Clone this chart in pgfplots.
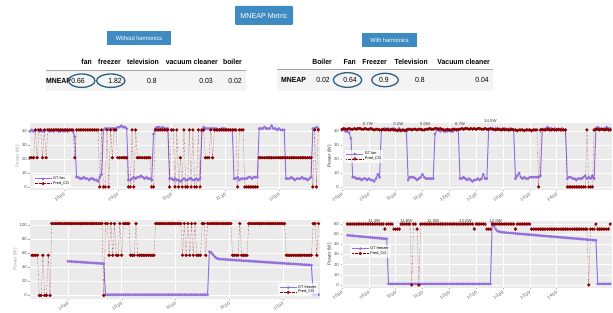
\documentclass[border=0pt]{standalone}
\usepackage{fontspec}
\setmainfont{Liberation Sans}
\newfontfamily\tabf[FakeStretch=0.93]{Liberation Sans}
\usepackage{pgfplots}
\pgfplotsset{compat=1.18}
\definecolor{gtpurple}{RGB}{147,112,219}
\definecolor{predred}{RGB}{139,0,0}
\definecolor{bggray}{RGB}{235,235,235}
\definecolor{boxblue}{RGB}{61,139,192}
\definecolor{ellblue}{RGB}{45,98,135}
\definecolor{rowgray}{RGB}{244,244,244}
\newcommand{\tickf}{\fontsize{4.3}{4.7}\selectfont}
\newcommand{\legf}{\fontsize{3.8}{4.2}\selectfont}
\pgfplotsset{
  myax/.style={scale only axis, anchor=south west, clip=false,
    axis background/.style={fill=bggray},
    axis line style={draw=none},
    grid=major, major grid style={white, line width=0.5pt},
    tick style={gray!70, line width=0.3pt}, major tick length=1.5pt, tick align=outside,
    xtick pos=left, ytick pos=left,
    /pgf/number format/assume math mode=true,
    ticklabel style={font=\tickf, text=black!70},
    xticklabel style={rotate=30, anchor=north east, inner sep=1pt},
    yticklabel style={inner sep=1.5pt},
    ylabel style={font=\fontsize{4.8}{5}\selectfont, text=black!75, yshift=-3pt},
    legend style={font=\legf, fill=white, fill opacity=0.7, text opacity=1, draw=none, inner sep=1pt, row sep=-1.5pt, nodes={inner sep=1pt}},
    legend cell align=left},
  gt/.style={color=gtpurple, line width=1pt, mark=*, mark size=0.85pt, mark options={solid}},
  pr/.style={color=predred, line width=0.35pt, densely dotted, mark=*, mark size=1.45pt, mark options={solid}}
}
\begin{document}
\begin{tikzpicture}[x=1pt,y=1pt]
\useasboundingbox (0,0) rectangle (613,313);
% title boxes
\node[fill=boxblue, text=white, rounded corners=1pt, minimum width=58pt, minimum height=19pt, inner sep=0pt, font=\fontsize{7.2}{8}\selectfont] at (264,297.5) {MNEAP Metric};
\node[fill=boxblue, text=white, minimum width=64pt, minimum height=14pt, inner sep=0pt, font=\tabf\fontsize{6}{6.5}\selectfont] at (139,275) {Without harmonics};
\node[fill=boxblue, text=white, minimum width=55pt, minimum height=14pt, inner sep=0pt, font=\tabf\fontsize{6}{6.5}\selectfont] at (389.5,273) {With harmonics};
% left table
\fill[rowgray] (46,222) rectangle (246,242);
\draw[gray!70, line width=0.8pt] (46,242.5) -- (246,242.5);
\begin{scope}[every node/.style={inner sep=0pt, anchor=east, font=\tabf\fontsize{7.4}{8}\selectfont\bfseries}]
\node at (92,251) {fan};
\node at (121,251) {freezer};
\node at (159,251) {television};
\node at (218,251) {vacuum cleaner};
\node at (242,251) {boiler};
\node[anchor=west] at (46,232) {MNEAP};
\end{scope}
\begin{scope}[every node/.style={inner sep=0pt, anchor=east, font=\tabf\fontsize{7.4}{8}\selectfont}]
\node at (85,232) {0.66};
\node at (122,232) {1.82};
\node at (157,232) {0.8};
\node at (213,232) {0.03};
\node at (242,232) {0.02};
\end{scope}
% right table
\fill[rowgray] (277,222) rectangle (493,243);
\draw[gray!70, line width=0.8pt] (277,243.7) -- (493,243.7);
\begin{scope}[every node/.style={inner sep=0pt, anchor=east, font=\tabf\fontsize{7.4}{8}\selectfont\bfseries}]
\node at (332,251) {Boiler};
\node at (356,251) {Fan};
\node at (387,251) {Freezer};
\node at (428,251) {Television};
\node at (490,251) {Vacuum cleaner};
\node[anchor=west] at (281,233) {MNEAP};
\end{scope}
\begin{scope}[every node/.style={inner sep=0pt, anchor=east, font=\tabf\fontsize{7.4}{8}\selectfont}]
\node at (330,233) {0.02};
\node at (357,233) {0.64};
\node at (389,233) {0.9};
\node at (425,233) {0.8};
\node at (489,233) {0.04};
\end{scope}
\draw[ellblue, line width=1.3pt] (81.7,232.3) ellipse [x radius=13.3, y radius=6.7];
\draw[ellblue, line width=1.3pt] (110.8,232.3) ellipse [x radius=14.2, y radius=6.7];
\draw[ellblue, line width=1.3pt] (347.5,233) ellipse [x radius=14.2, y radius=7.3];
\draw[ellblue, line width=1.3pt] (385,233) ellipse [x radius=13.3, y radius=6.7];

% ---------------- top-left: fan without harmonics
\begin{axis}[myax, at={(30pt,123pt)}, width=290pt, height=67pt,
  xmin=-19, xmax=143, ymin=-2.2, ymax=46,
  xtick={0,30,60,90,120}, xticklabels={10:00,10:30,11:00,11:30,12:00},
  ytick={0,10,20,30,40}, ylabel={Power (W)}, ylabel style={text=black!35},
  legend style={at={(0.01,0.03)}, anchor=south west}]
\addplot[gt] coordinates {(-19,40)(-18,41)(-17,40)(-16,41)(-15,41)(-14,40)(-13,41)(-12,40)(-11,40)(-10,41)(-9,41)(-8,40)(-7,41)(-6,40)(-5,41)(-4,41)(-3,40)(-2,40)(-1,41)(0,40)(1,41)(2,40)(3,41)(4,41)(5,40)
(6,36)(7,7)(8,7)(9,6)(10,6)(11,7)(12,6)(13,6)(14,5)(15,6)(16,6)(17,5)(18,5)(19,4)(20,7)(21,9)(22,41)
(23,42)(24,42)(25,42)(26,42)(27,42)(28,42)(29,42)(30,43)(31,43)(32,44)(33,43)(34,43)(35,42)
(36,5)(37,5)(38,6)(39,7)(40,6)(41,7)(42,7)(43,8)(44,7)(45,6)(46,7)(47,6)(48,6)(49,5)
(50,38)(51,42)(52,43)(53,43)(54,42)(55,43)(56,42)(57,42)(58,42)
(59,6)(60,6)(61,5)(62,6)(63,5)(64,5)(65,4)(66,5)(67,6)(68,5)(69,5)(70,6)(71,6)(72,5)(73,5)(74,6)(75,5)(76,6)
(77,40)(78,43)(79,42)(80,42)(81,42)(82,42)(83,42)(84,42)(85,42)(86,41)(87,41)(88,42)(89,42)(90,42)(91,41)(92,41)(93,41)(94,41)
(95,6)(96,6)(97,7)(98,5)(99,6)(100,6)(101,6)(102,6)(103,7)(104,7)(105,6)(106,7)(107,7)(108,7)
(109,42)(110,42)(111,42)(112,43)(113,42)(114,42)(115,42)(116,44)(117,42)(118,42)(119,41)(120,42)(121,41)(122,41)(123,41)
(124,6)(125,6)(126,6)(127,7)(128,6)(129,5)(130,6)(131,6)(132,6)(133,7)(134,6)(135,6)(136,5)(137,6)(138,7)
(139,42)(140,42)(141,43)(142,42)};
\addplot[pr] coordinates {(-19,21)(-18,21)(-17,21)(-16,41)(-15,21)(-14,41)(-13,41)(-12,21)(-11,41)(-10,21)
(-9,41)(-8,41)(-7,41)(-6,41)(-5,41)(-4,41)(-3,41)(-2,41)(-1,41)(0,41)(1,41)(2,41)(3,41)(4,41)(5,41)
(6,21)(7,41)(8,41)(9,41)(10,41)(11,41)(12,41)(13,41)(14,41)(15,41)(16,41)(17,41)(18,41)(19,41)
(20,0)(21,41)(22,0)(23,0)(24,41)(25,0)(26,41)(27,21)(28,41)(29,41)(30,21)(31,21)(32,21)(33,21)(34,21)(35,21)
(36,0)(37,0)(38,41)(39,0)(40,41)(41,21)(42,21)(43,21)(44,21)(45,21)(46,21)(47,21)(48,21)(49,0)(50,0)
(51,41)(52,41)(53,41)(54,41)(55,41)(56,41)(57,41)(58,41)(59,0)(60,41)(61,41)(62,0)(63,41)(64,0)(65,21)(66,0)(67,41)(68,0)(69,0)(70,41)(71,0)(72,41)(73,0)(74,0)(75,41)(76,0)
(77,41)(78,41)(79,21)(80,21)(81,21)(82,41)(83,21)(84,41)(85,41)(86,41)(87,41)(88,41)(89,41)(90,41)(91,41)(92,41)(93,41)(94,41)(95,41)(96,41)(97,0)(98,41)(99,41)(100,41)
(101,0)(102,0)(103,0)(104,0)(105,0)(106,0)(107,0)(108,0)
(109,21)(110,21)(111,21)(112,21)(113,21)(114,21)(115,21)(116,21)(117,21)(118,21)(119,21)(120,21)(121,21)(122,21)(123,21)(124,21)(125,21)(126,21)(127,21)(128,21)(129,21)(130,21)(131,21)(132,21)(133,21)(134,21)(135,21)(136,21)(137,21)(138,21)
(139,0)(140,41)(141,0)(142,41)};
\legend{GT fan,Pred\_CO}
\end{axis}

% ---------------- top-right: fan with harmonics
\begin{axis}[myax, at={(342pt,123pt)}, width=270pt, height=67pt,
  xmin=0, xmax=302, ymin=-2.2, ymax=46,
  xtick={0,30,60,90,120,150,180,210,240}, xticklabels={10:00,10:30,11:00,11:30,12:00,12:30,13:00,13:30,14:00},
  ytick={0,10,20,30,40}, ylabel={Power (W)},
  legend style={at={(0.01,0.40)}, anchor=south west}]
\addplot[gt] coordinates {(0,41)(2,41)(4,40)(6,40)(8,39)(10,35)(12,7)(14,7)(16,6)(18,6)(20,6)(22,5)(24,6)(26,6)(28,5)(30,6)(32,5)(34,5)(36,4)(38,6)(40,9)(42,7)(44,41)(46,41)(48,42)(50,41)(52,42)(54,41)(56,41)(58,42)(60,41)(62,41)(64,42)(66,41)(68,41)(70,41)(72,40)(74,5)(76,7)(78,7)(80,7)(82,6)(84,5)(86,6)(88,7)(90,9)(92,7)(94,6)(96,6)(98,6)(100,6)(102,6)(104,38)(106,41)(108,41)(110,40)(112,41)(114,40)(116,40)(118,40)(120,41)(122,40)(124,40)(126,41)(128,41)(130,41)(132,6)(134,6)(136,7)(138,6)(140,5)(142,6)(144,5)(146,4)(148,5)(150,5)(152,6)(154,5)(156,6)(158,9)(160,6)(162,6)(164,41)(166,42)(168,42)(170,41)(172,42)(174,42)(176,41)(178,41)(180,42)(182,42)(184,41)(186,41)(188,42)(190,41)(192,41)(194,6)(196,8)(198,10)(200,7)(202,6)(204,7)(206,6)(208,6)(210,7)(212,7)(214,7)(216,7)(218,7)(220,7)(222,8)(224,41)(226,41)(228,42)(230,43)(232,42)(234,42)(236,41)(238,42)(240,41)(242,41)(244,41)(246,42)(248,41)(250,41)(252,6)(254,7)(256,7)(258,6)(260,6)(262,5)(264,6)(266,6)(268,6)(270,7)(272,8)(274,6)(276,7)(278,6)(280,8)(282,6)(284,42)(286,43)(288,42)(290,42)(292,41)(294,42)(296,43)(298,42)(300,42)};
\addplot[pr] coordinates {(0,41.5)(2,42)(4,41.5)(6,41.5)(8,42)(10,41.5)(12,41.5)(14,42)(16,41.5)(18,42)(20,42)(22,41.5)(24,41.5)(26,42)(28,41.5)(30,41.5)(32,42)(34,41.5)(36,41)(38,41.5)(40,41.5)(42,41)(44,41)(46,41.5)(48,41)(50,41.5)(52,41)(54,41)(56,41.5)(58,41)(60,41)(62,40.5)(64,41)(66,40.5)(68,41)(70,40.5)(72,41)(74,41.5)(76,41.5)(78,41)(80,41.5)(82,41.5)(84,41)(86,41.5)(88,41.5)(90,41)(92,41)(94,41.5)(96,41.5)(98,42)(100,41.5)(102,41.5)(104,42)(106,42)(108,41.5)(110,42)(112,41.5)(114,41)(116,41)(118,41.5)(120,41)(122,41)(124,41.5)(126,41.5)(128,41)(130,41.5)(132,41.5)(134,42)(136,41.5)(138,42)(140,42)(142,41.5)(144,42)(146,41.5)(148,42)(150,41.5)(152,42)(154,42)(156,41.5)(158,41.5)(160,42)(162,41.5)(164,41.5)(166,42)(168,41.5)(170,41.5)(172,41)(174,41.5)(176,41.5)(178,41)(180,41.5)(182,41)(184,41.5)(186,41)(188,41)(190,41.5)(192,41)(194,41)(196,40.5)(198,41)(200,41)(202,41)(204,40.5)(206,41)(208,41)(210,41)(212,40.5)(214,41)(216,41)
(218,41)(220,0)(222,41)(224,41.5)(226,41)(228,41)(230,41.5)(232,41)(234,41)(236,41.5)(238,41)(240,41)(242,41.5)(244,41)(246,41)(248,41)(250,41)
(252,0)(254,0)(256,0)(258,0)(260,0)(262,0)(264,0)(266,0)(268,0)(270,0)(272,0)(274,41)(276,0)(278,0)(280,0)(282,41)(284,41.5)(286,41.5)(288,41)(290,41.5)(292,41.5)(294,41)(296,41.5)(298,41)(300,41)};
\legend{GT fan,Pred\_CO}
\node[font=\tickf, text=black!75] at (axis cs:29,45.3) {0.7W};
\node[font=\tickf, text=black!75] at (axis cs:63,45.3) {0.2W};
\node[font=\tickf, text=black!75] at (axis cs:93,45.3) {0.0W};
\node[font=\tickf, text=black!75] at (axis cs:132,45.3) {6.7W};
\node[font=\tickf, text=black!75] at (axis cs:166,47.3) {34.5W};
\end{axis}

% ---------------- bottom-left: freezer without harmonics
\begin{axis}[myax, at={(30pt,14pt)}, width=290pt, height=79pt,
  xmin=-21.2, xmax=140.8, ymin=-5.1, ymax=107.1,
  xtick={0,30,60,90,120}, xticklabels={10:00,10:30,11:00,11:30,12:00},
  ytick={0,20,40,60,80,100}, ylabel={Power (W)}, ylabel style={text=black!35},
  legend style={at={(0.995,0.03)}, anchor=south east}]
\addplot[gt] coordinates {(0,48.5)(1,48.3)(2,48.1)(3,48)(4,47.8)(5,47.6)(6,47.5)(7,47.3)(8,47.1)(9,47)(10,46.8)(11,46.6)(12,46.5)(13,46.3)(14,46.1)(15,46)(16,45.8)(17,45.6)(18,45.4)(19,45.2)(20,45)
(21,1)(22,1)(23,1)(24,1)(25,1)(26,1)(27,1)(28,1)(29,1)(30,1)(31,1)(32,1)(33,1)(34,1)(35,1)(36,1)(37,1)(38,1)(39,1)(40,1)(41,1)(42,1)(43,1)(44,1)(45,1)(46,1)(47,1)(48,1)(49,1)(50,1)(51,1)(52,1)(53,1)(54,1)(55,1)(56,1)(57,1)(58,1)(59,1)(60,1)(61,1)(62,1)(63,1)(64,1)(65,1)(66,1)(67,1)(68,1)(69,1)(70,1)(71,1)(72,1)(73,1)(74,1)(75,1)(76,1)(77,1)(78,1)
(79,62)(80,61)(81,58)(82,55)(83,53)(84,52)(85,51.5)(86,51.3)(87,51.2)(88,51)(89,50.8)(90,50.7)(91,50.5)(92,50.3)(93,50.2)(94,50)(95,49.8)(96,49.7)(97,49.5)(98,49.3)(99,49.2)(100,49)(101,48.8)(102,48.7)(103,48.5)(104,48.3)(105,48.2)(106,48)(107,47.8)(108,47.7)(109,47.5)(110,47.3)(111,47.2)(112,47)(113,46.8)(114,46.7)(115,46.5)(116,46.3)(117,46.2)(118,46)(119,45.8)(120,45.7)(121,45.5)(122,45.3)(123,45.2)(124,45)(125,44.8)(126,44.7)(127,44.5)(128,44.3)(129,44.2)(130,44)(131,43.8)(132,43.7)(133,43.5)(134,43.3)(135,43.2)(136,43)
(137,1)(138,1)(139,1)(140,1)};
\addplot[pr] coordinates {(-20,57)(-19,57)(-18,57)(-17,57)(-16,0)(-15,0)(-14,57)(-13,0)(-12,0)(-11,57)(-10,0)
(-9,102)(-8,102)(-7,102)(-6,102)(-5,102)(-4,102)(-3,102)(-2,102)(-1,102)(0,102)(1,102)(2,102)(3,102)(4,102)(5,102)(6,102)(7,102)(8,102)(9,102)(10,102)(11,102)(12,102)(13,102)(14,102)(15,102)(16,102)(17,102)(18,102)(19,102)
(20,0)(21,102)(22,102)(23,57)(24,102)(25,57)(26,102)(27,57)(28,57)(29,102)(30,57)(31,102)(32,102)(33,102)(34,102)
(35,57)(36,57)(37,57)(38,102)(39,57)(40,57)(41,57)(42,57)(43,57)(44,57)(45,57)(46,57)(47,57)(48,57)
(49,102)(50,102)(51,102)(52,102)(53,102)(54,102)(55,102)(56,102)(57,102)(58,102)(59,102)(60,102)(61,102)(62,102)(63,102)
(64,57)(65,102)(66,57)(67,102)(68,57)(69,102)(70,57)(71,102)(72,57)(73,57)(74,57)
(75,102)(76,102)(77,57)(78,102)(79,102)(80,102)(81,102)(82,102)(83,102)(84,102)(85,102)(86,102)(87,102)(88,102)(89,102)(90,102)(91,102)
(92,57)(93,57)(94,57)(95,57)(96,102)(97,57)(98,57)(99,57)(100,57)
(101,102)(102,102)(103,102)(104,102)(105,102)(106,102)(107,102)(108,102)(109,102)(110,102)(111,102)(112,102)(113,102)(114,102)(115,102)(116,102)(117,102)(118,102)(119,102)(120,102)(121,102)
(122,57)(123,57)(124,57)(125,57)(126,57)(127,57)(128,57)(129,57)(130,57)(131,57)(132,57)(133,57)(134,57)(135,57)(136,57)
(137,102)(138,102)(139,57)(140,102)};
\legend{GT freezer,Pred\_CO}
\end{axis}

% ---------------- bottom-right: freezer with harmonics
\begin{axis}[myax, at={(342pt,25pt)}, width=270pt, height=67pt,
  xmin=0, xmax=302, ymin=-3, ymax=63,
  xtick={0,30,60,90,120,150,180,210,240}, xticklabels={10:00,10:30,11:00,11:30,12:00,12:30,13:00,13:30,14:00},
  ytick={0,10,20,30,40,50,60}, ylabel={Power (W)},
  legend style={at={(0.03,0.45)}, anchor=south west}]
\addplot[gt] coordinates {(6,49)(8,48.8)(10,48.6)(12,48.5)(14,48.3)(16,48.1)(18,48)(20,47.8)(22,47.6)(24,47.5)(26,47.3)(28,47.1)(30,47)(32,46.8)(34,46.6)(36,46.5)(38,46.3)(40,46.2)(42,46)(44,45.9)(46,45.7)(48,45.6)(50,45.4)
(52,1)(54,1)(56,1)(58,1)(60,1)(62,1)(64,1)(66,1)(68,1)(70,1)(72,1)(74,1)(76,1)(78,1)(80,1)(82,1)(84,1)(86,1)(88,1)(90,1)(92,1)(94,1)(96,1)(98,1)(100,1)(102,1)(104,1)(106,1)(108,1)(110,1)(112,1)(114,1)(116,1)(118,1)(120,1)(122,1)(124,1)(126,1)(128,1)(130,1)(132,1)(134,1)(136,1)(138,1)(140,1)(142,1)(144,1)(146,1)(148,1)(150,1)(152,1)(154,1)(156,1)(158,1)(160,1)(162,1)(164,1)(166,1)
(168,61)(170,58)(172,55)(174,53)(176,52.5)(178,52)
(180,51.8)(182,51.6)(184,51.5)(186,51.3)(188,51.2)(190,51)(192,50.9)(194,50.7)(196,50.6)(198,50.4)(200,50.3)(202,50.1)(204,50)(206,49.8)(208,49.7)(210,49.5)(212,49.4)(214,49.2)(216,49.1)(218,48.9)(220,48.8)(222,48.6)(224,48.5)(226,48.3)(228,48.2)(230,48)(232,47.9)(234,47.7)(236,47.6)(238,47.4)(240,47.3)(242,47.1)(244,47)(246,46.8)(248,46.7)(250,46.5)(252,46.4)(254,46.2)(256,46.1)(258,45.9)(260,45.8)(262,45.6)(264,45.5)(266,45.3)(268,45.2)(270,45)(272,44.9)(274,44.7)(276,44.6)(278,44.4)(280,44.3)(282,44.1)(284,44)
(286,1)(288,1)(290,1)(292,1)(294,1)(296,1)(298,1)(300,1)};
\addplot[pr] coordinates {(6,60)(8,60)(10,60)(12,60)(14,60)(16,60)(18,60)(20,60)(22,60)(24,60)(26,60)(28,60)(30,60)(32,60)(34,60)(36,60)(38,60)(40,60)(42,60)(44,60)(46,60)
(48,55)(50,60)(52,60)(54,60)(56,60)(58,55)(60,55)(62,55)(64,55)(66,60)(68,60)(70,60)(72,60)(74,60)(76,60)(78,0)(80,60)(82,60)(84,55)(86,0)
(88,60)(90,60)(92,60)(94,60)(96,60)(98,60)(100,60)(102,60)(104,60)(106,60)(108,60)(110,60)(112,60)(114,60)(116,60)(118,60)(120,60)(122,60)(124,60)(126,60)(128,60)(130,60)(132,60)(134,60)(136,60)(138,60)(140,60)(142,60)(144,60)(146,60)
(148,55)(150,60)(152,60)(154,60)(156,60)(158,60)(160,60)(162,55)(164,55)(166,55)
(168,60)(170,60)(172,60)(174,60)(176,60)(178,60)(180,60)(182,60)(184,60)(186,60)(188,60)(190,60)(192,60)(194,55)(196,60)(198,60)(200,60)(202,60)(204,60)(206,60)(208,60)(210,60)
(212,55)(214,55)(216,55)(218,55)(220,55)(222,55)(224,55)(226,55)(228,55)(230,55)(232,55)(234,55)(236,55)(238,55)(240,55)(242,55)(244,55)(246,55)(248,55)(250,55)(252,55)(254,55)(256,55)(258,55)(260,55)(262,55)(264,55)(266,55)(268,55)(270,55)(272,55)(274,55)
(276,0)(278,55)(280,55)(282,55)(284,60)(286,55)(288,55)(290,55)(292,55)(294,55)(296,55)(298,55)(300,60)};
\legend{GT freezer,Pred\_CO}
\node[font=\tickf, text=black!75] at (axis cs:36,63.3) {11.4W};
\node[font=\tickf, text=black!75] at (axis cs:72,63.3) {11.6W};
\node[font=\tickf, text=black!75] at (axis cs:102,63.3) {11.0W};
\node[font=\tickf, text=black!75] at (axis cs:138,63.3) {12.0W};
\node[font=\tickf, text=black!75] at (axis cs:172,63.3) {12.0W};
\end{axis}
\end{tikzpicture}
\end{document}
